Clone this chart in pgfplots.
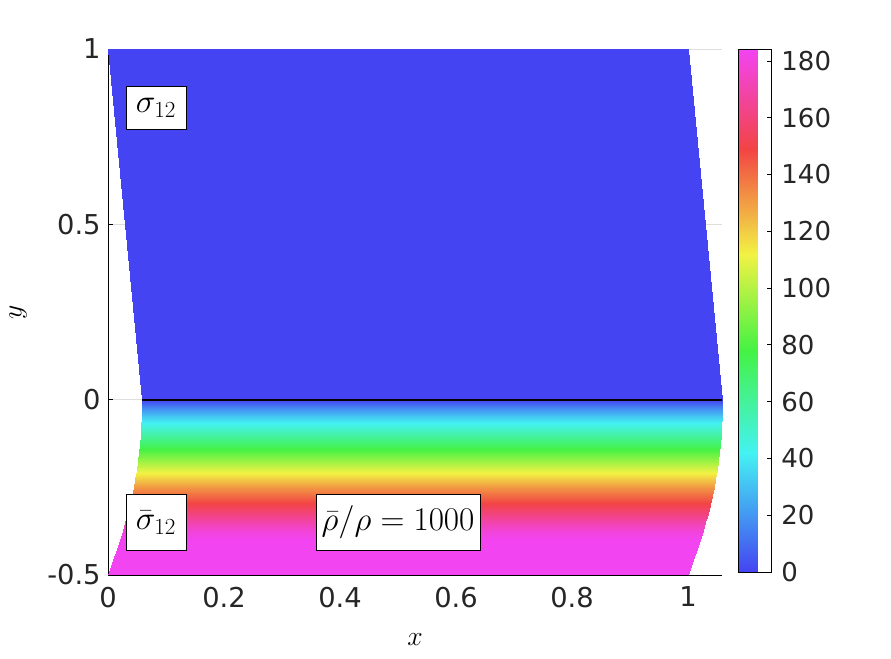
\documentclass[border=0pt]{standalone}
\usepackage[no-math]{fontspec}
\setmainfont{DejaVu Sans}
\usepackage{pgfplots}
\usepackage{pgfplotstable}
\pgfplotsset{compat=1.18}
\pgfplotstableread{
x y c
0.0586 0 0
1.0586 0 0
0.0585 -0.025 17
1.0585 -0.025 17
0.0580 -0.05 33
1.0580 -0.05 33
0.0573 -0.075 46
1.0573 -0.075 46
0.0563 -0.1 58
1.0563 -0.1 58
0.0549 -0.125 70
1.0549 -0.125 70
0.0533 -0.15 82
1.0533 -0.15 82
0.0514 -0.175 95
1.0514 -0.175 95
0.0492 -0.2 108
1.0492 -0.2 108
0.0467 -0.225 120
1.0467 -0.225 120
0.0440 -0.25 131
1.0440 -0.25 131
0.0409 -0.275 141
1.0409 -0.275 141
0.0375 -0.3 151
1.0375 -0.3 151
0.0338 -0.325 161
1.0338 -0.325 161
0.0299 -0.35 170
1.0299 -0.35 170
0.0256 -0.375 179
1.0256 -0.375 179
0.0211 -0.4 184
1.0211 -0.4 184
0.0163 -0.425 184
1.0163 -0.425 184
0.0111 -0.45 184
1.0111 -0.45 184
0.0057 -0.475 184
1.0057 -0.475 184
0 -0.5 184
1 -0.5 184
}\lowtab
\pgfplotstableread{
x y c
0.0586 0 0
1.0586 0 0
0 1 0
1 1 0
}\uptab
\begin{document}
\begin{tikzpicture}[x=1pt,y=1pt]
\path[use as bounding box] (-81,-63) rectangle (587.25,431.25);
\begin{axis}[
  at={(0,0)}, anchor=south west, scale only axis,
  width=460.5pt, height=394.5pt,
  xmin=0, xmax=1.0586, ymin=-0.5, ymax=1,
  axis x line*=bottom, axis y line*=left,
  axis line style={-, black, line width=0.6pt},
  xtick={0,0.2,0.4,0.6,0.8,1}, xticklabels={0,0.2,0.4,0.6,0.8,1},
  ytick={-0.5,0,0.5,1}, yticklabels={-0.5,0,0.5,1},
  tick align=inside, major tick length=4pt,
  tick style={black, line width=0.6pt},
  ymajorgrids, grid style={black!13, line width=0.6pt},
  ticklabel style={font=\fontsize{20.5}{24}\selectfont, text=black!85},
  xticklabel style={yshift=-5.5pt},
  yticklabel style={xshift=-2pt},
  xlabel={$x$}, ylabel={$y$},
  label style={font=\fontsize{22}{26}\selectfont},
  xlabel style={at={(rel axis cs:0.5,0)}, anchor=center, yshift=-48.75pt},
  ylabel style={at={(rel axis cs:0,0.5)}, anchor=center, yshift=67.5pt},
  colormap={mymap}{rgb255(0pt)=(68,68,242); rgb255(42pt)=(68,242,242); rgb255(78pt)=(68,242,68); rgb255(112pt)=(242,242,68); rgb255(149pt)=(242,68,68); rgb255(184.2pt)=(242,68,242)},
  point meta min=0, point meta max=184.2,
  colorbar,
  colorbar style={
    at={(parent axis.north east)}, anchor=north west, xshift=3.75pt,
    scale only axis, width=24.75pt, height=392.25pt,
    ytick={0,20,...,180}, yticklabels={0,20,40,60,80,100,120,140,160,180},
    yticklabel pos=right, ytick pos=right,
    tick align=inside, major tick length=3pt,
    tick style={black, line width=0.6pt},
    axis line style={black, line width=0.6pt},
    yticklabel style={font=\fontsize{19.5}{23}\selectfont, text=black!85, xshift=4pt},
  },
]
\addplot[surf, shader=interp, mesh/cols=2, point meta=explicit] table[x=x, y=y, meta=c] {\uptab};
\addplot[surf, shader=interp, mesh/cols=2, point meta=explicit] table[x=x, y=y, meta=c] {\lowtab};
\addplot[black, line width=1.5pt] coordinates {(0.0586,0) (1.0586,0)};
\node[draw=black, fill=white, line width=0.5pt, minimum width=45pt, minimum height=32pt, inner sep=0pt, font=\fontsize{23}{27}\selectfont] at (axis cs:0.0828,0.833) {$\sigma_{12}$};
\node[draw=black, fill=white, line width=0.5pt, minimum width=45pt, minimum height=42pt, inner sep=0pt, font=\fontsize{23}{27}\selectfont] at (axis cs:0.0828,-0.350) {$\bar{\sigma}_{12}$};
\node[draw=black, fill=white, line width=0.5pt, minimum width=123pt, minimum height=42pt, inner sep=0pt, font=\fontsize{23}{27}\selectfont] at (axis cs:0.5,-0.350) {$\bar{\rho}/\rho = 1000$};
\end{axis}
\end{tikzpicture}
\end{document}
